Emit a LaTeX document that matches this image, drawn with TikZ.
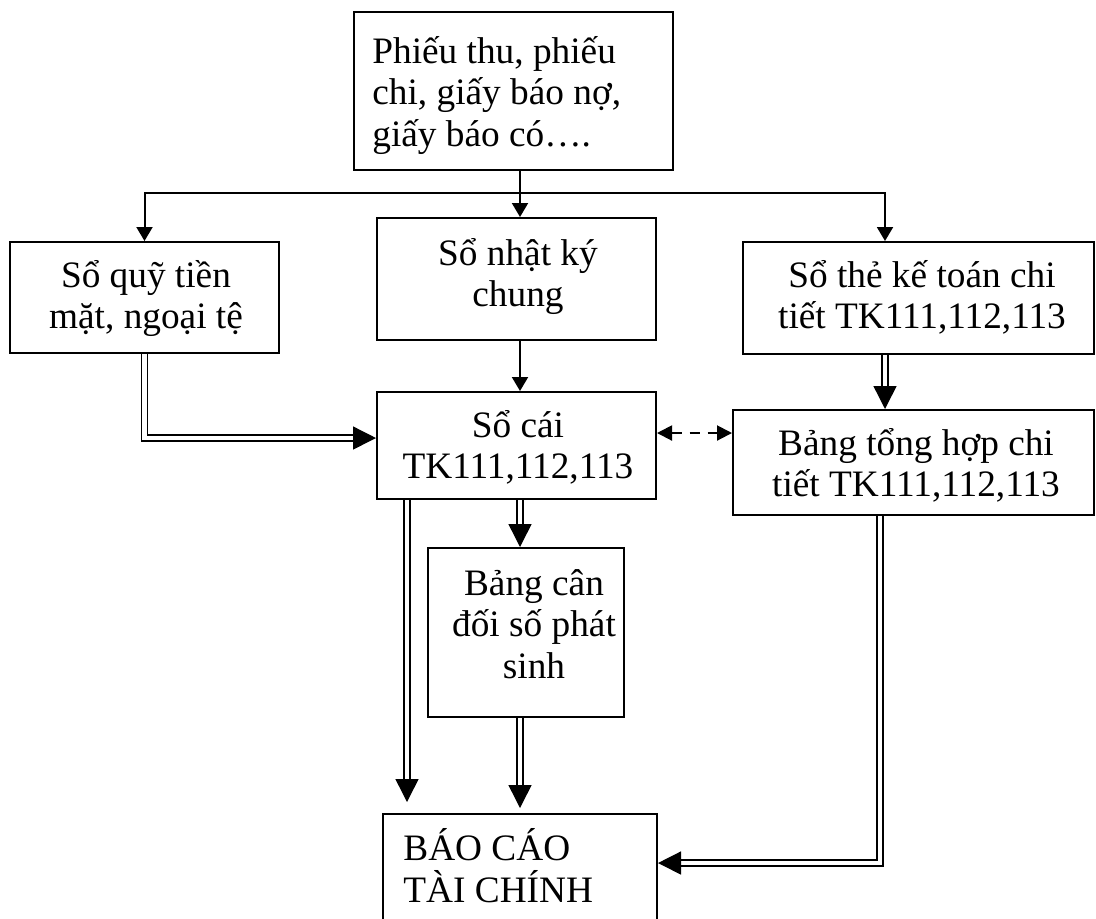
\documentclass[tikz,border=0pt]{standalone}
\usepackage{fontspec}
\setmainfont{Liberation Serif}
\usetikzlibrary{arrows.meta,fit}

\begin{document}
\begin{tikzpicture}[x=0.5pt,y=-0.5pt,
  box/.style={draw, line width=1pt, inner sep=0pt, fit={#1}},
  txt/.style={inner sep=0pt, anchor=base, align=center,
    font=\fontsize{18.65}{20.75}\selectfont},
  thinline/.style={line width=1pt},
  sarrow/.style={line width=1pt, -{Triangle[length=7pt,width=8pt]}},
  darrow/.style={line width=1pt, dash pattern=on 5pt off 4pt,
    {Triangle[length=7.5pt,width=7.5pt]}-{Triangle[length=7.5pt,width=7.5pt]}},
  dbl/.style={double, double distance=2.4pt, line width=0.7pt, line join=miter},
  bighead/.style={line width=0.7pt, -{Triangle[length=11.5pt,width=11.5pt]}},
]
\useasboundingbox (0,0) rectangle (1096,918);
\clip (0,0) rectangle (1096,918);

% boxes
\node[box={(354,12) (673,170)}]   (ct) {};
\node[box={(10,242) (279,353)}]   (qs) {};
\node[box={(377,218) (656,340)}]  (nk) {};
\node[box={(743,242) (1094,354)}] (st) {};
\node[box={(377,392) (656,499)}]  (sc) {};
\node[box={(733,410) (1094,515)}] (th) {};
\node[box={(428,548) (624,717)}]  (cd) {};
\node[box={(383,814) (657,930)}]  (bc) {};

% box texts (placed by the baseline of their last line)
\node[txt, anchor=base west, align=left] (t-ct) at (372,146)
  {Phiếu thu, phiếu\\chi, giấy báo nợ,\\giấy báo có….};
\node[txt] (t-qs) at (146,328.5) {Sổ quỹ tiền\\mặt, ngoại tệ};
\node[txt] (t-nk) at (518,306.5) {Sổ nhật ký\\chung};
\node[txt] (t-st) at (922,328.5) {Sổ thẻ kế toán chi\\tiết TK111,112,113};
\node[txt] (t-sc) at (518,478.5) {Sổ cái\\TK111,112,113};
\node[txt] (t-th) at (916,496.5) {Bảng tổng hợp chi\\tiết TK111,112,113};
\node[txt] (t-cd) at (534,678) {Bảng cân\\đối số phát\\sinh};
\node[txt, anchor=base west, align=left] (t-bc) at (403,902) {BÁO CÁO\\TÀI CHÍNH};

% helper points
\coordinate (split) at (520,193);
\coordinate (colR) at (885,0);
\coordinate (colL) at (407,0);
\coordinate (colT) at (880,0);
\coordinate (h1) at (885,387);
\coordinate (h2) at (520,525);
\coordinate (h3) at (407,779);
\coordinate (tip3) at (407,802);
\coordinate (h4) at (520,785);
\coordinate (tip4) at (520,808);
\coordinate (h5) at (680,863);
\coordinate (h6) at (354,438);
\coordinate (dy) at (0,433);

% single-line flow from the source documents
\draw[thinline] (ct.south -| split) -- (split);
\draw[sarrow] (split) -| (qs.north);
\draw[sarrow] (split) -| (st.north -| colR);
\draw[sarrow] (split) -- (nk.north -| split);
\draw[sarrow] (nk.south -| split) -- (sc.north -| split);

% reconciliation
\draw[darrow] (sc.east |- dy) -- (th.west |- dy);

% double-line flows
\draw[dbl] (qs.south) |- (h6);
\draw[bighead] (h6) -- (sc.west |- h6);

\draw[dbl] (st.south -| colR) -- (h1);
\draw[bighead] (h1) -- (th.north -| colR);

\draw[dbl] (sc.south -| split) -- (h2);
\draw[bighead] (h2) -- (cd.north -| split);

\draw[dbl] (sc.south -| colL) -- (h3);
\draw[bighead] (h3) -- (tip3);

\draw[dbl] (cd.south -| split) -- (h4);
\draw[bighead] (h4) -- (tip4);

\draw[dbl] (th.south -| colT) |- (h5);
\draw[bighead] (h5) -- (bc.east |- h5);
\end{tikzpicture}
\end{document}
